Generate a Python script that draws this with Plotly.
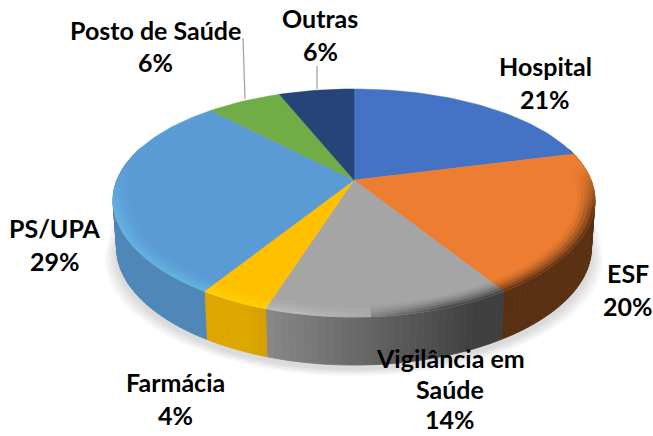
import math
import plotly.graph_objects as go

categories = ["Hospital", "ESF", "Vigilância em Saúde", "Farmácia", "PS/UPA", "Posto de Saúde", "Outras"]
values = [21, 20, 14, 4, 29, 6, 6]
colors = [(68, 114, 196), (237, 125, 49), (165, 165, 165), (255, 192, 0), (91, 155, 213), (112, 173, 71), (38, 68, 120)]

label_lines = [["Hospital"], ["ESF"], ["Vigilância em", "Saúde"], ["Farmácia"], ["PS/UPA"], ["Posto de Saúde"], ["Outras"]]
label_pos = [(545, 66), (628, 273), (450, 358), (175, 382), (55, 228), (155, 30), (320, 18)]
label_lead = [33, 33, 30.5, 33, 33, 32, 33]

CX, CY, RX, RY, K = 354, 180, 237, 109.4, 0.2018
DEPTH, BSCALE = 48, 0.985
W, H = 653, 436
FONT = "Lato"
FS = 25


def proj(theta, r=1.0):
    x, y = r * math.sin(theta), r * math.cos(theta)
    w = 1 + K * y
    wx = 1 + 0.18 * y
    return CX + RX * x / wx, CY - RY * y / w


def proj_bottom(theta, r=1.0):
    u, v = proj(theta, r)
    return CX + (u - CX) * BSCALE, v + DEPTH


def rgb(c):
    return "rgb(%d,%d,%d)" % tuple(max(0, min(255, round(a))) for a in c)


def poly(fig, pts, color, lw=0.8):
    fig.add_trace(go.Scatter(
        x=[p[0] for p in pts] + [pts[0][0]], y=[p[1] for p in pts] + [pts[0][1]],
        mode="lines", fill="toself", fillcolor=color,
        line=dict(color=color, width=lw), hoverinfo="skip", showlegend=False))


fig = go.Figure()

# soft shadow below the body
ring = [i * 2 * math.pi / 120 for i in range(120)]
for d in range(12, 0, -2):
    pts = []
    for t in ring:
        u, v = proj_bottom(t)
        pts.append((u + (u - CX) / 240 * d, v + 4 + d * (0.6 if math.cos(t) < 0 else 0)))
    poly(fig, pts, "rgba(0,0,0,0.022)", 0)

# slices
total = sum(values)
edges = [0]
for val in values:
    edges.append(edges[-1] + val / total * 2 * math.pi)

STEP = math.radians(1.5)
segments = []
for i, col in enumerate(colors):
    a0, a1 = edges[i], edges[i + 1]
    n = max(2, int((a1 - a0) / STEP))
    segments.append((i, col, [a0 + (a1 - a0) * j / n for j in range(n + 1)]))

# side wall, shaded across the width
for i, col, ts in segments:
    for t0, t1 in zip(ts[:-1], ts[1:]):
        tm = (t0 + t1) / 2
        if math.cos(tm) > 0.3:
            continue
        f = max(0.38, min(0.87, 0.64 - 0.6 * math.sin(tm)))
        c = [a * f for a in col]
        poly(fig, [proj(t0), proj(t1), proj_bottom(t1), proj_bottom(t0)], rgb(c))

# top faces
for i, col, ts in segments:
    poly(fig, [(CX, CY)] + [proj(t) for t in ts], rgb(col), 0.5)

# bevel at the front rim
RIM = [0.93, 0.945, 0.96, 0.975, 0.99, 1.0]
for i, col, ts in segments:
    for t0, t1 in zip(ts[:-1], ts[1:]):
        tm = (t0 + t1) / 2
        strength = max(0.0, min(1.0, 0.3 - 2.5 * math.cos(tm)))
        if strength <= 0:
            continue
        sx = math.sin(tm)
        for k, (r0, r1) in enumerate(zip(RIM[:-1], RIM[1:])):
            s = ((k + 1) / (len(RIM) - 1)) ** 1.5 * strength
            if sx < 0.05:
                amt = 0.3 * s * min(1, (0.05 - sx) * 3 + 0.25)
                c = [a + (255 - a) * amt * 0.8 if a > 100 else a + 30 * amt for a in col]
            else:
                amt = min(1, sx * 2.5 + 0.2) * s
                f = 1 - 0.55 * amt
                c = [a * f for a in col]
            poly(fig, [proj(t0, r0), proj(t1, r0), proj(t1, r1), proj(t0, r1)], rgb(c), 0.5)

# leader lines
for x0, y0, x1, y1 in [(243, 38, 245, 99), (317, 66, 317, 89)]:
    fig.add_shape(type="line", x0=x0, y0=y0, x1=x1, y1=y1, line=dict(color="#A6A6A6", width=1.3))

# labels
for lines, val, (x, y), lead in zip(label_lines, values, label_pos, label_lead):
    for n, txt in enumerate(lines + ["%d%%" % val]):
        fig.add_annotation(x=x, y=y + n * lead, text="<b>%s</b>" % txt, showarrow=False,
                           xanchor="center", yanchor="middle",
                           font=dict(family=FONT, size=FS, color="black"))

fig.update_layout(
    width=W, height=H, margin=dict(l=0, r=0, t=0, b=0),
    paper_bgcolor="white", plot_bgcolor="white", showlegend=False,
    xaxis=dict(range=[0, W], visible=False, fixedrange=True),
    yaxis=dict(range=[H, 0], visible=False, fixedrange=True),
)
fig.write_html("out.html", config=dict(displayModeBar=False),
               post_script="document.body.style.margin='0';document.body.style.overflow='hidden';")
